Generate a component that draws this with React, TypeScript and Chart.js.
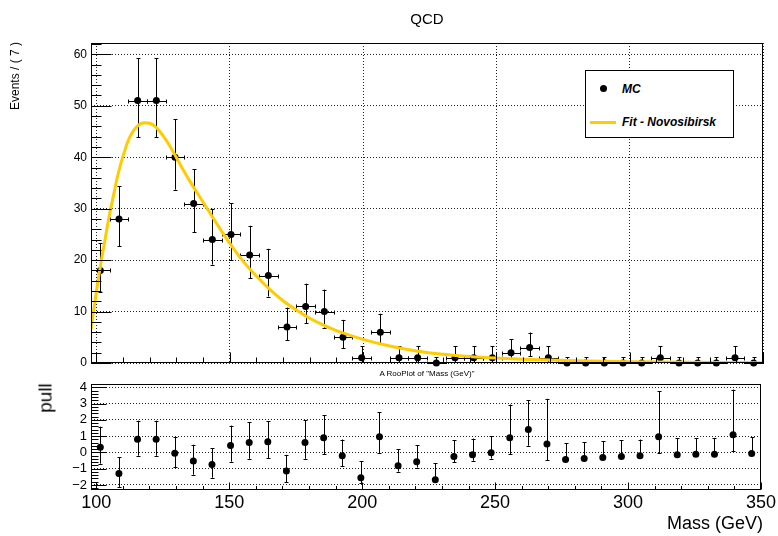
import React, { useEffect, useRef } from "react";
import { Chart, registerables } from "chart.js";

Chart.register(...registerables);

// ---------------- data ----------------
const binCenters = [
  101.5, 108.5, 115.5, 122.5, 129.5, 136.5, 143.5, 150.5, 157.5, 164.5, 171.5, 178.5,
  185.5, 192.5, 199.5, 206.5, 213.5, 220.5, 227.5, 234.5, 241.5, 248.5, 255.5, 262.5,
  269.5, 276.5, 283.5, 290.5, 297.5, 304.5, 311.5, 318.5, 325.5, 332.5, 339.5, 346.5,
];
const binHalfWidth = 3.5;

const mcCounts = [
  18, 28, 51, 51, 40, 31, 24, 25, 21, 17, 7, 11,
  10, 5, 1, 6, 1, 1, 0, 1, 1, 1, 2, 3,
  1, 0, 0, 0, 0, 0, 1, 0, 0, 0, 1, 0,
];
const mcErrLow = [
  4.21, 5.27, 7.12, 7.12, 6.31, 5.55, 4.87, 4.97, 4.55, 4.08, 2.58, 3.27,
  3.11, 2.16, 0.83, 2.38, 0.83, 0.83, 0, 0.83, 0.83, 0.83, 1.29, 1.63,
  0.83, 0, 0, 0, 0, 0, 0.83, 0, 0, 0, 0.83, 0,
];
const mcErrHigh = [
  5.33, 6.36, 8.19, 8.19, 7.38, 6.64, 5.97, 6.08, 5.67, 5.2, 3.77, 4.42,
  4.27, 3.38, 2.3, 3.58, 2.3, 2.3, 1.15, 2.3, 2.3, 2.3, 2.64, 2.92,
  2.3, 1.15, 1.15, 1.15, 1.15, 1.15, 2.3, 1.15, 1.15, 1.15, 2.3, 1.15,
];

const fitX = [
  98, 99, 100, 101, 102, 103, 104, 105, 106, 108, 110, 112, 114, 116, 118, 120, 122, 125,
  128, 131, 135, 140, 145, 150, 155, 160, 165, 170, 175, 180, 185, 190, 200, 210, 220, 230,
  240, 250, 260, 270, 280, 290, 300, 310, 320, 335, 350,
];
const fitY = [
  6.5, 10.2, 13.8, 17.2, 20.3, 23.2, 26.2, 29.0, 31.5, 36.4, 40.2, 43.3, 45.2, 46.3, 46.7, 46.6, 46.0, 44.2,
  41.8, 39.0, 35.4, 31.3, 27.2, 23.3, 19.8, 16.9, 14.3, 12.1, 10.3, 8.7, 7.4, 6.3, 4.6, 3.3, 2.35, 1.7,
  1.25, 0.95, 0.75, 0.58, 0.45, 0.34, 0.26, 0.2, 0.15, 0.1, 0.07,
];

const pullValues = [
  0.31, -1.29, 0.8, 0.8, -0.06, -0.53, -0.74, 0.43, 0.61, 0.66, -1.15, 0.61,
  0.9, -0.21, -1.55, 0.96, -0.82, -0.57, -1.68, -0.25, -0.15, -0.02, 0.9, 1.41,
  0.51, -0.43, -0.37, -0.31, -0.25, -0.21, 0.96, -0.14, -0.12, -0.11, 1.08, -0.07,
];
const pullErrLow = [
  1, 0.83, 1, 1, 0.855, 0.836, 0.816, 1, 1, 1, 0.685, 1,
  1, 0.64, 0.36, 1, 0.36, 0.36, 0, 0.36, 0.36, 0.36, 1, 1,
  1, 0, 0, 0, 0, 0, 1, 0, 0, 0, 1, 0,
];
const pullErrHigh = [
  1.27, 1, 1.15, 1.15, 1, 1, 1, 1.22, 1.25, 1.27, 1, 1.35,
  1.37, 1, 1, 1.51, 1, 1, 1, 1, 1, 1, 2.04, 1.79,
  2.78, 1, 1, 1, 1, 1, 2.78, 1, 1, 1, 2.78, 1,
];

const massRange = [98, 350];
const eventsRange = [0, 62.2];
const pullRange = [-2.31, 4.2];

const massTicks = [100, 150, 200, 250, 300, 350];
const eventsTicks = [0, 10, 20, 30, 40, 50, 60];
const pullTicks = [-2, -1, 0, 1, 2, 3, 4];

const FONT = '"Liberation Sans", Arial, Helvetica, sans-serif';
const FIT_COLOR = "#FFCC00";

// ---------------- plugins ----------------
function errorBarPlugin(vals: number[], lo: number[], hi: number[], halfW: number) {
  return {
    id: "errbars",
    beforeDatasetsDraw(chart: any) {
      const ctx = chart.ctx;
      const xs = chart.scales.x;
      const ys = chart.scales.y;
      const a = chart.chartArea;
      ctx.save();
      ctx.beginPath();
      ctx.rect(a.left - 1, a.top, a.right - a.left + 2, a.bottom - a.top + 1);
      ctx.clip();
      ctx.strokeStyle = "#000";
      ctx.lineWidth = 1;
      ctx.beginPath();
      for (let i = 0; i < vals.length; i++) {
        const px = Math.round(xs.getPixelForValue(binCenters[i])) + 0.5;
        const py = ys.getPixelForValue(vals[i]);
        const yt = ys.getPixelForValue(vals[i] + hi[i]);
        const yb = ys.getPixelForValue(vals[i] - lo[i]);
        ctx.moveTo(px, yt);
        ctx.lineTo(px, yb);
        const ytr = Math.round(yt) + 0.5;
        const ybr = Math.round(yb) + 0.5;
        ctx.moveTo(px - 2, ytr);
        ctx.lineTo(px + 2, ytr);
        if (lo[i] > 0) {
          ctx.moveTo(px - 2, ybr);
          ctx.lineTo(px + 2, ybr);
        }
        if (halfW > 0) {
          const xl = Math.round(xs.getPixelForValue(binCenters[i] - halfW)) + 0.5;
          const xr = Math.round(xs.getPixelForValue(binCenters[i] + halfW)) + 0.5;
          const pyr = Math.round(py) + 0.5;
          ctx.moveTo(xl, pyr);
          ctx.lineTo(xr, pyr);
          ctx.moveTo(xl, pyr - 2);
          ctx.lineTo(xl, pyr + 2);
          ctx.moveTo(xr, pyr - 2);
          ctx.lineTo(xr, pyr + 2);
        }
      }
      ctx.stroke();
      ctx.restore();
    },
  };
}

function framePlugin(o: {
  yMinor: number; yMajor: number; yMajLen: number; yMinLen: number;
  xMinor: number; xMajor: number; xMajLen: number; xMinLen: number; xStart: number;
}) {
  return {
    id: "rootframe",
    afterDraw(chart: any) {
      const ctx = chart.ctx;
      const a = chart.chartArea;
      const xs = chart.scales.x;
      const ys = chart.scales.y;
      const L = Math.round(a.left) + 0.5;
      const R = Math.round(a.right) - 0.5;
      const T = Math.round(a.top) + 0.5;
      const B = Math.round(a.bottom) - 0.5;
      ctx.save();
      ctx.strokeStyle = "#000";
      ctx.lineWidth = 1;
      ctx.beginPath();
      const n0 = Math.ceil(ys.min / o.yMinor - 1e-6);
      const n1 = Math.floor(ys.max / o.yMinor + 1e-6);
      for (let n = n0; n <= n1; n++) {
        const v = n * o.yMinor;
        const ratio = v / o.yMajor;
        const major = Math.abs(ratio - Math.round(ratio)) < 1e-6;
        const py = Math.round(ys.getPixelForValue(v)) + 0.5;
        ctx.moveTo(L, py);
        ctx.lineTo(L + (major ? o.yMajLen : o.yMinLen), py);
      }
      for (let v = o.xStart; v <= xs.max + 1e-6; v += o.xMinor) {
        const ratio = v / o.xMajor;
        const major = Math.abs(ratio - Math.round(ratio)) < 1e-6;
        const px = Math.round(xs.getPixelForValue(v)) + 0.5;
        ctx.moveTo(px, B);
        ctx.lineTo(px, B - (major ? o.xMajLen : o.xMinLen));
      }
      ctx.stroke();
      ctx.strokeRect(L, T, R - L, B - T);
      ctx.restore();
    },
  };
}

const fixedTicks = (vals: number[]) => (s: any) => {
  s.ticks = vals.map((v) => ({ value: v }));
};

const gridStyle = { display: true, color: "#222", lineWidth: 1, drawTicks: false };
const borderStyle = { display: false, dash: [1, 2] };

export default function App() {
  const topRef = useRef<HTMLCanvasElement>(null);
  const pullRef = useRef<HTMLCanvasElement>(null);

  useEffect(() => {
    const top = new Chart(topRef.current as HTMLCanvasElement, {
      type: "scatter",
      data: {
        datasets: [
          {
            label: "Fit - Novosibirsk",
            type: "line",
            data: fitX.map((x, i) => ({ x, y: fitY[i] })),
            borderColor: FIT_COLOR,
            borderWidth: 3,
            pointRadius: 0,
            cubicInterpolationMode: "monotone",
            fill: false,
            order: 0,
          } as any,
          {
            label: "MC",
            data: binCenters.map((x, i) => ({ x, y: mcCounts[i] })),
            pointRadius: 3.5,
            pointBackgroundColor: "#000",
            pointBorderColor: "#000",
            pointBorderWidth: 0,
            clip: false,
            order: 1,
          } as any,
        ],
      },
      options: {
        animation: false,
        responsive: false,
        devicePixelRatio: 1,
        layout: { padding: { top: 43, right: 15, left: 0, bottom: 0 } },
        plugins: { legend: { display: false }, tooltip: { enabled: false } },
        scales: {
          x: {
            type: "linear",
            min: massRange[0],
            max: massRange[1],
            afterBuildTicks: fixedTicks(massTicks),
            ticks: { display: false, autoSkip: false },
            grid: gridStyle,
            border: borderStyle,
            afterFit: (s: any) => { s.height = 173; },
          },
          y: {
            type: "linear",
            min: eventsRange[0],
            max: eventsRange[1],
            afterBuildTicks: fixedTicks(eventsTicks),
            ticks: {
              autoSkip: false,
              color: "#000",
              padding: 4,
              font: { family: FONT, size: 12 },
            },
            grid: gridStyle,
            border: borderStyle,
            afterFit: (s: any) => { s.width = 91; },
          },
        },
      } as any,
      plugins: [
        errorBarPlugin(mcCounts, mcErrLow, mcErrHigh, binHalfWidth),
        framePlugin({ yMinor: 2, yMajor: 10, yMajLen: 20, yMinLen: 10, xMinor: 10, xMajor: 50, xMajLen: 10, xMinLen: 5, xStart: 100 }),
      ],
    });

    const pull = new Chart(pullRef.current as HTMLCanvasElement, {
      type: "scatter",
      data: {
        datasets: [
          {
            label: "pull",
            data: binCenters.map((x, i) => ({ x, y: pullValues[i] })),
            pointRadius: 3.5,
            pointBackgroundColor: "#000",
            pointBorderColor: "#000",
            pointBorderWidth: 0,
            clip: false,
          } as any,
        ],
      },
      options: {
        animation: false,
        responsive: false,
        devicePixelRatio: 1,
        layout: { padding: { top: 384, right: 15, left: 0, bottom: 0 } },
        plugins: { legend: { display: false }, tooltip: { enabled: false } },
        scales: {
          x: {
            type: "linear",
            min: massRange[0],
            max: massRange[1],
            afterBuildTicks: fixedTicks(massTicks),
            ticks: {
              color: "#000",
              padding: 2,
              maxRotation: 0,
              minRotation: 0,
              autoSkip: false,
              font: { family: FONT, size: 18 },
            },
            grid: { display: false, drawTicks: false },
            border: { display: false },
            afterFit: (s: any) => { s.height = 46; },
          },
          y: {
            type: "linear",
            min: pullRange[0],
            max: pullRange[1],
            afterBuildTicks: fixedTicks(pullTicks),
            ticks: {
              autoSkip: false,
              color: "#000",
              padding: 4,
              font: { family: FONT, size: 13 },
              callback: (v: any) => (v < 0 ? "\u2212" + Math.abs(v) : String(v)),
            },
            grid: gridStyle,
            border: borderStyle,
            afterFit: (s: any) => { s.width = 91; },
          },
        },
      } as any,
      plugins: [
        errorBarPlugin(pullValues, pullErrLow, pullErrHigh, 0),
        framePlugin({ yMinor: 0.2, yMajor: 1, yMajLen: 15, yMinLen: 7, xMinor: 10, xMajor: 50, xMajLen: 7, xMinLen: 3.5, xStart: 100 }),
      ],
    });

    return () => {
      top.destroy();
      pull.destroy();
    };
  }, []);

  const abs: React.CSSProperties = { position: "absolute", left: 0, top: 0 };
  const txt = (x: number, y: number, size: number, extra: React.CSSProperties = {}): React.CSSProperties => ({
    position: "absolute",
    left: x,
    top: y,
    transform: "translate(-50%, -50%)",
    fontFamily: FONT,
    fontSize: size,
    lineHeight: 1,
    whiteSpace: "nowrap",
    color: "#000",
    ...extra,
  });

  return (
    <div style={{ position: "fixed", left: 0, top: 0, width: 778, height: 536, background: "#fff", overflow: "hidden" }}>
      <canvas ref={topRef} width={778} height={536} style={abs} />
      <canvas ref={pullRef} width={778} height={536} style={abs} />
      <div style={txt(427, 18, 15)}>QCD</div>
      <div style={txt(15, 76, 12, { transform: "translate(-50%, -50%) rotate(-90deg)" })}>Events / ( 7 )</div>
      <div style={txt(45, 398, 19, { transform: "translate(-50%, -50%) rotate(-90deg)" })}>pull</div>
      <div style={txt(427, 374, 8)}>A RooPlot of "Mass (GeV)"</div>
      <div style={{ position: "absolute", right: 15, top: 514, fontFamily: FONT, fontSize: 18, lineHeight: 1, whiteSpace: "nowrap" }}>
        Mass (GeV)
      </div>
      <div
        style={{
          position: "absolute",
          left: 585,
          top: 70,
          width: 149,
          height: 68,
          boxSizing: "border-box",
          border: "1px solid #000",
          background: "#fff",
          fontFamily: FONT,
          fontSize: 12,
          fontWeight: "bold",
          fontStyle: "italic",
        }}
      >
        <span style={{ position: "absolute", left: 14, top: 14, width: 7, height: 7, borderRadius: "50%", background: "#000" }} />
        <span style={{ position: "absolute", left: 36, top: 17.5, transform: "translateY(-50%)", lineHeight: 1 }}>MC</span>
        <span style={{ position: "absolute", left: 4, top: 49.5, width: 26, height: 3, background: FIT_COLOR }} />
        <span style={{ position: "absolute", left: 36, top: 51, transform: "translateY(-50%)", lineHeight: 1 }}>Fit - Novosibirsk</span>
      </div>
    </div>
  );
}
